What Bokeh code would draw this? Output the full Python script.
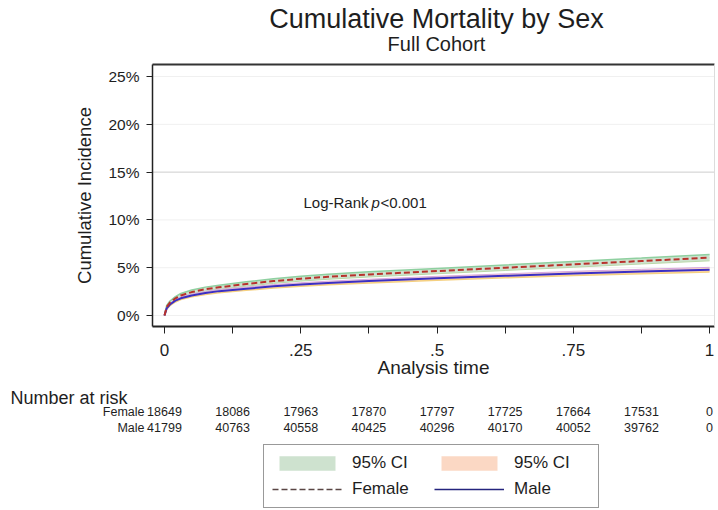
from bokeh.plotting import figure
from bokeh.models import Range1d, FixedTicker, Label, Legend, LegendItem, LinearAxis
from bokeh.embed import file_html
from bokeh.resources import INLINE

# Analysis time (fraction of follow-up) and cumulative incidence (%) by sex
time = [0, 0.004, 0.01, 0.02, 0.03, 0.05, 0.075, 0.1, 0.15, 0.2, 0.25, 0.3,
        0.375, 0.5, 0.625, 0.75, 0.875, 1.0]
female_inc = [0, 0.9, 1.35, 1.8, 2.1, 2.45, 2.75, 2.95, 3.3, 3.6, 3.85, 4.05,
              4.3, 4.65, 5.0, 5.35, 5.7, 6.05]
female_lo = [0, 0.75, 1.18, 1.62, 1.9, 2.24, 2.53, 2.73, 3.07, 3.36, 3.6, 3.79,
             4.03, 4.37, 4.71, 5.05, 5.39, 5.72]
female_hi = [0, 1.05, 1.52, 1.98, 2.3, 2.66, 2.97, 3.17, 3.53, 3.84, 4.1, 4.31,
             4.57, 4.93, 5.29, 5.65, 6.01, 6.38]
male_inc = [0, 0.75, 1.15, 1.55, 1.8, 2.1, 2.35, 2.55, 2.8, 3.05, 3.25, 3.4,
            3.6, 3.9, 4.15, 4.4, 4.6, 4.8]
male_lo = [0, 0.65, 1.03, 1.42, 1.66, 1.95, 2.19, 2.39, 2.63, 2.87, 3.07, 3.21,
           3.41, 3.7, 3.94, 4.18, 4.37, 4.56]
male_hi = [0, 0.85, 1.27, 1.68, 1.94, 2.25, 2.51, 2.71, 2.97, 3.23, 3.43, 3.59,
           3.79, 4.1, 4.36, 4.62, 4.83, 5.04]

# Number at risk table
risk_times = [0, 0.125, 0.25, 0.375, 0.5, 0.625, 0.75, 0.875, 1.0]
risk_female = [18649, 18086, 17963, 17870, 17797, 17725, 17664, 17531, 0]
risk_male = [41799, 40763, 40558, 40425, 40296, 40170, 40052, 39762, 0]

# Axis ticks
y_ticks = [0, 5, 10, 15, 20, 25]
y_tick_labels = ["0%", "5%", "10%", "15%", "20%", "25%"]
x_ticks = [0, 0.25, 0.5, 0.75, 1.0]
x_tick_labels = ["0", ".25", ".5", ".75", "1"]
x_minor_ticks = [0.125, 0.375, 0.625, 0.875]

title_text = "Cumulative Mortality by Sex"
subtitle_text = "Full Cohort"

# Canvas and plot-box geometry (pixels). The frame covers the whole canvas so
# the heading, risk table and legend can sit around the plot box.
W, H = 718, 510
BOX_L, BOX_R, BOX_T, BOX_B = 152, 714, 64, 326
X0, X1 = -0.022, 1.009          # analysis-time limits of the plot box
Y0, Y1 = -1.15, 26.26           # incidence limits of the plot box
KX = (X1 - X0) / (BOX_R - BOX_L)
KY = (Y1 - Y0) / (BOX_B - BOX_T)


def xdata(px):
    return X0 + (px - BOX_L) * KX


def ydata(py):
    return Y0 + (BOX_B - py) * KY


SANS = "Liberation Sans"
INK = "#1e1e1e"
AXIS = "#222222"

p = figure(width=W, height=H, output_backend="svg", toolbar_location=None,
           x_range=Range1d(xdata(0), xdata(W)), y_range=Range1d(ydata(H), ydata(0)),
           x_axis_type=None, y_axis_type=None,
           min_border_left=0, min_border_right=0, min_border_top=0, min_border_bottom=0)
p.outline_line_color = None
p.background_fill_color = "white"
p.border_fill_color = "white"

# horizontal reference lines inside the plot box
p.segment(x0=[X0] * len(y_ticks), x1=[X1] * len(y_ticks), y0=y_ticks, y1=y_ticks,
          line_color="#f0f0f0", line_width=1)
p.segment(x0=[X0], x1=[X1], y0=[y_ticks[3]], y1=[y_ticks[3]], line_color="#d4d4d4", line_width=1)

# y axis
yax = LinearAxis(fixed_location=X0, bounds=(Y0, Y1), ticker=FixedTicker(ticks=y_ticks))
yax.major_label_overrides = {t: s for t, s in zip(y_ticks, y_tick_labels)}
yax.axis_label = "Cumulative Incidence"
yax.axis_label_text_font = SANS
yax.axis_label_text_font_size = "18.5px"
yax.axis_label_text_font_style = "normal"
yax.axis_label_text_color = INK
yax.axis_label_standoff = 10
yax.major_label_text_font = SANS
yax.major_label_text_font_size = "15.5px"
yax.major_label_text_color = INK
yax.major_label_standoff = 7
yax.major_tick_out = 6
yax.major_tick_in = 0
yax.minor_tick_line_color = None
yax.axis_line_color = AXIS
yax.axis_line_width = 1.5
yax.major_tick_line_color = AXIS
p.add_layout(yax, "left")

# x axis
xax = LinearAxis(fixed_location=Y0, bounds=(X0, X1),
                 ticker=FixedTicker(ticks=x_ticks, minor_ticks=x_minor_ticks))
xax.major_label_overrides = {t: s for t, s in zip(x_ticks, x_tick_labels)}
xax.axis_label = "Analysis time"
xax.axis_label_text_font = SANS
xax.axis_label_text_font_size = "19px"
xax.axis_label_text_font_style = "normal"
xax.axis_label_text_color = INK
xax.axis_label_standoff = -2
xax.major_label_text_font = SANS
xax.major_label_text_font_size = "17px"
xax.major_label_text_color = INK
xax.major_label_standoff = 10
xax.major_tick_out = 7
xax.major_tick_in = 0
xax.minor_tick_out = 7
xax.minor_tick_in = 0
xax.axis_line_color = AXIS
xax.axis_line_width = 2
xax.major_tick_line_color = AXIS
xax.minor_tick_line_color = AXIS
p.add_layout(xax, "below")

# top and right edges of the plot box
top_edge = LinearAxis(fixed_location=Y1, bounds=(X0, X1), ticker=FixedTicker(ticks=[]),
                      axis_line_color="#333333", axis_line_width=2,
                      major_label_text_font_size="0px", major_tick_line_color=None,
                      minor_tick_line_color=None)
p.add_layout(top_edge, "above")
right_edge = LinearAxis(fixed_location=X1, bounds=(Y0, Y1), ticker=FixedTicker(ticks=[]),
                        axis_line_color="#dcdcdc", axis_line_width=1,
                        major_label_text_font_size="0px", major_tick_line_color=None,
                        minor_tick_line_color=None)
p.add_layout(right_edge, "right")

# band / line styles
F_BAND, M_BAND = "#c9dfca", "#fbd4be"
F_LINE, M_LINE = "#b8322c", "#3b2fc4"
F_DASH = "6 3"

f_band = p.varea(x=time, y1=female_lo, y2=female_hi, fill_color=F_BAND, fill_alpha=0.9)
m_band = p.varea(x=time, y1=male_lo, y2=male_hi, fill_color=M_BAND, fill_alpha=0.9)
p.line(time, female_hi, line_color="#8fd0a0", line_width=1.5)
p.line(time, female_lo, line_color="#b9d8a8", line_width=1)
p.line(time, male_hi, line_color="#d9a8e0", line_width=1)
p.line(time, male_lo, line_color="#f5d080", line_width=1.5)
p.line(time, male_inc, line_color=M_LINE, line_width=2)
p.line(time, female_inc, line_color=F_LINE, line_width=2, line_dash=F_DASH)

# legend keys: single-point lines draw nothing in the plot, only their key
kf_line = p.line(x=time[:1], y=female_inc[:1], line_color="#5a4644", line_width=1.5,
                 line_dash=F_DASH)
km_line = p.line(x=time[:1], y=male_inc[:1], line_color="#24247e", line_width=1.5)

# log-rank annotation
lr_x, lr_y = xdata(303), ydata(202)
p.add_layout(Label(x=lr_x, y=lr_y, text="Log-Rank", text_font=SANS, text_font_size="15px",
                   text_color=INK, text_baseline="middle"))
p.add_layout(Label(x=lr_x, y=lr_y, x_offset=68, text="p", text_font=SANS, text_font_size="15px",
                   text_font_style="italic", text_color=INK, text_baseline="middle"))
p.add_layout(Label(x=lr_x, y=lr_y, x_offset=77, text="<0.001", text_font=SANS,
                   text_font_size="15px", text_color=INK, text_baseline="middle"))

# heading
cx = xdata((BOX_L + BOX_R) / 2 + 3)
p.add_layout(Label(x=cx, y=ydata(18), text=title_text, text_font=SANS, text_font_size="27px",
                   text_color=INK, text_align="center", text_baseline="middle"))
p.add_layout(Label(x=cx, y=ydata(43), text=subtitle_text, text_font=SANS, text_font_size="20px",
                   text_color=INK, text_align="center", text_baseline="middle"))

# number at risk table
p.add_layout(Label(x=xdata(10), y=ydata(397), text="Number at risk", text_font=SANS,
                   text_font_size="18px", text_color=INK, text_baseline="middle"))
for name, row, py in (("Female", risk_female, 411), ("Male", risk_male, 427)):
    p.add_layout(Label(x=xdata(144), y=ydata(py), text=name, text_font=SANS,
                       text_font_size="12.5px", text_color=INK, text_align="right",
                       text_baseline="middle"))
    for t, n in zip(risk_times, row):
        p.add_layout(Label(x=t, y=ydata(py), text=str(n), text_font=SANS,
                           text_font_size="12.5px", text_color=INK, text_align="center",
                           text_baseline="middle"))

# legend under the table
legend = Legend(items=[
    LegendItem(label="95% CI", renderers=[f_band]),
    LegendItem(label="Female", renderers=[kf_line]),
    LegendItem(label="95% CI", renderers=[m_band]),
    LegendItem(label="Male", renderers=[km_line]),
], location=(263, H - 508), orientation="vertical", ncols=2)
legend.label_text_font = SANS
legend.label_text_font_size = "17px"
legend.label_text_color = INK
legend.label_height = 20
legend.label_width = 76
legend.label_standoff = 10
legend.glyph_width = 70
legend.glyph_height = 18
legend.spacing = 6
legend.padding = 8
legend.margin = 0
legend.border_line_color = "#333333"
legend.border_line_width = 1
legend.background_fill_color = "white"
p.add_layout(legend, "center")

open("out.html", "w").write(file_html(p, INLINE))
